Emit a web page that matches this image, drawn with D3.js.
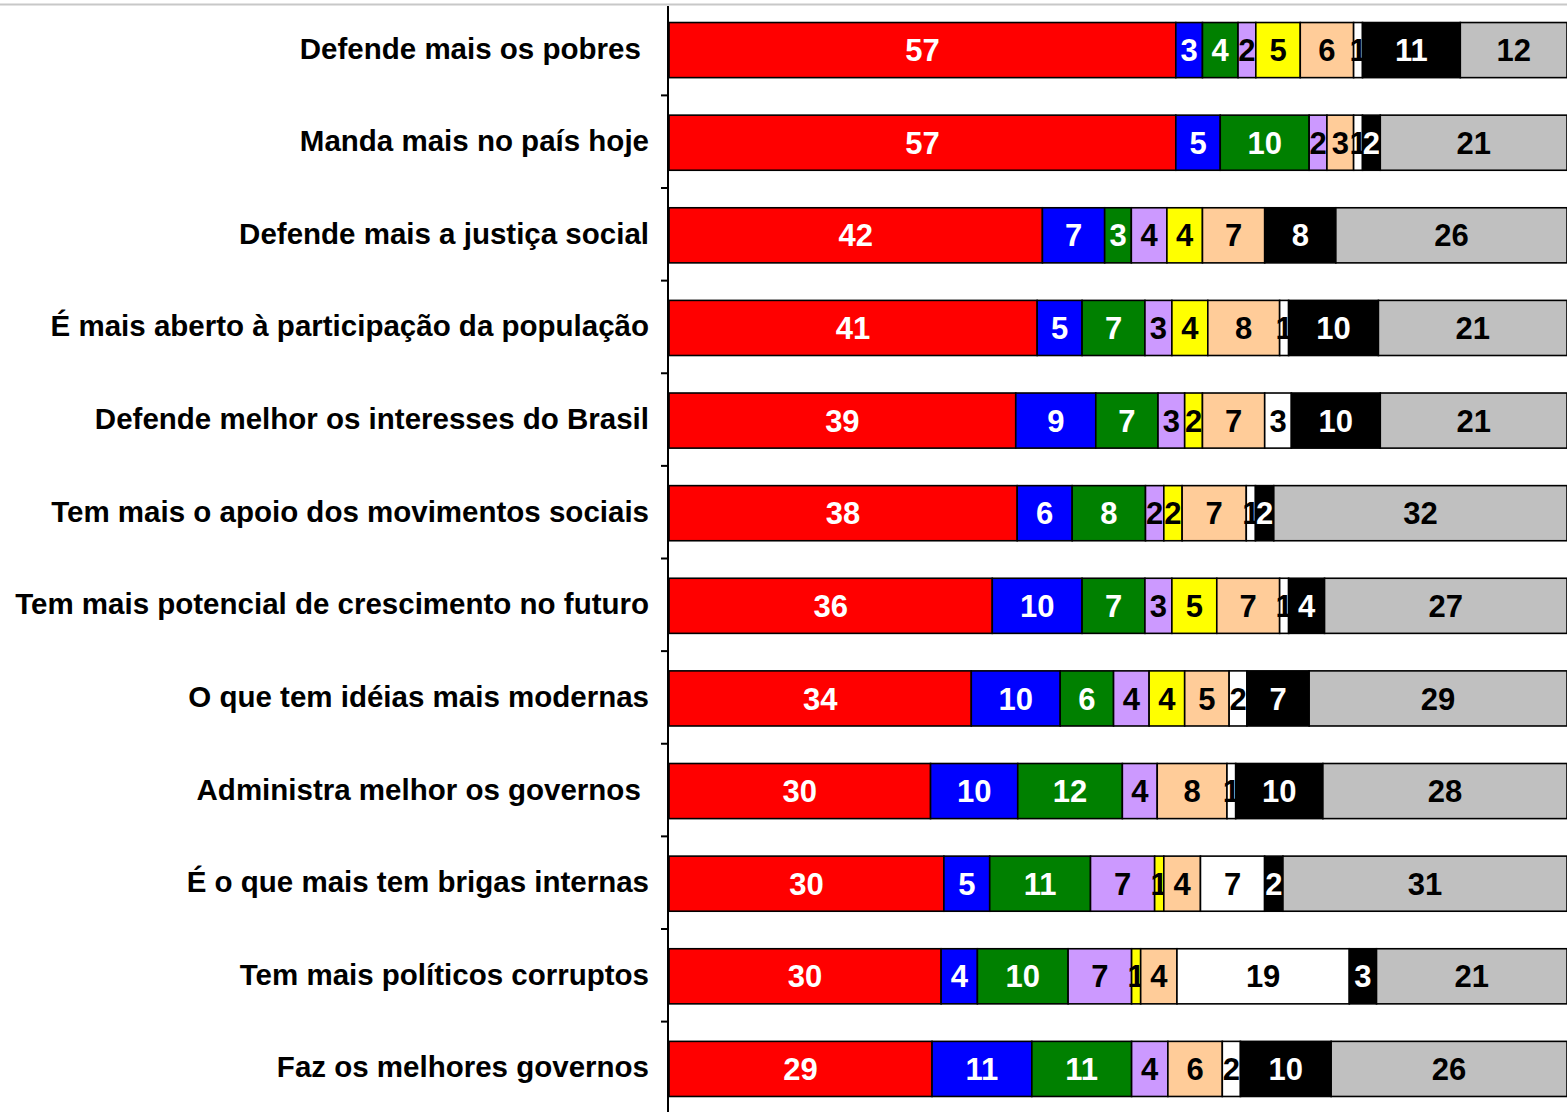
<!DOCTYPE html>
<html>
<head>
<meta charset="utf-8">
<script src="https://cdn.jsdelivr.net/npm/d3@7"></script>
<style>
  body { margin: 0; background: #fff; }
  svg { display: block; font-family: "Liberation Sans", Arial, sans-serif; }
</style>
</head>
<body>
<div id="chart"></div>
<script>
var categories = [
	"Defende mais os pobres ",
	"Manda mais no país hoje",
	"Defende mais a justiça social",
	"É mais aberto à participação da população",
	"Defende melhor os interesses do Brasil",
	"Tem mais o apoio dos movimentos sociais",
	"Tem mais potencial de crescimento no futuro",
	"O que tem idéias mais modernas",
	"Administra melhor os governos ",
	"É o que mais tem brigas internas",
	"Tem mais políticos corruptos",
	"Faz os melhores governos"
];

// one array per segment colour, in stacking order
var red      = [57, 57, 42, 41, 39, 38, 36, 34, 30, 30, 30, 29];
var blue     = [ 3,  5,  7,  5,  9,  6, 10, 10, 10,  5,  4, 11];
var green    = [ 4, 10,  3,  7,  7,  8,  7,  6, 12, 11, 10, 11];
var lavender = [ 2,  2,  4,  3,  3,  2,  3,  4,  4,  7,  7,  4];
var yellow   = [ 5,  0,  4,  4,  2,  2,  5,  4,  0,  1,  1,  0];
var peach    = [ 6,  3,  7,  8,  7,  7,  7,  5,  8,  4,  4,  6];
var white    = [ 1,  1,  0,  1,  3,  1,  1,  2,  1,  7, 19,  2];
var black    = [11,  2,  8, 10, 10,  2,  4,  7, 10,  2,  3, 10];
var gray     = [12, 21, 26, 21, 21, 32, 27, 29, 28, 31, 21, 26];

var keys = ["red", "blue", "green", "lavender", "yellow", "peach", "white", "black", "gray"];
var series = { red, blue, green, lavender, yellow, peach, white, black, gray };
var fills = ["#FF0000", "#0000FF", "#008000", "#CC99FF", "#FFFF00", "#FFCC99", "#FFFFFF", "#000000", "#C0C0C0"];
var textColors = ["#fff", "#fff", "#fff", "#000", "#000", "#000", "#000", "#fff", "#000"];

var rows = categories.map((c, i) => {
	var r = { cat: c };
	keys.forEach(k => r[k] = series[k][i]);
	return r;
});

const W = 1567, H = 1112;
const margin = { top: 3, right: 0, bottom: -2, left: 669 };
const width = W - margin.left - margin.right,
	height = H - margin.top - margin.bottom;

var svg = d3.select("#chart").append("svg")
		.attr("width", W)
		.attr("height", H);

// light border line across the top
svg.append("line")
	.attr("x1", 0).attr("x2", W)
	.attr("y1", 4.5).attr("y2", 4.5)
	.attr("stroke", "#c8c8c8")
	.attr("stroke-width", 2);

var g = svg.append("g")
	.attr("transform", `translate(${margin.left},${margin.top})`);

var x = d3.scaleLinear([0, 1], [0, width]);
var y = d3.scaleBand(categories, [0, height]).paddingInner(0.405).paddingOuter(0.2);

var stacked = d3.stack().keys(keys).offset(d3.stackOffsetExpand)(rows);

// draw row by row so that later segments cover overflowing labels
categories.forEach((cat, i) => {
	var row = g.append("g").attr("class", "row");
	stacked.forEach((s, k) => {
		var d = s[i];
		var v = rows[i][keys[k]];
		if (v === 0) return;
		row.append("rect")
			.attr("x", x(d[0]))
			.attr("y", y(cat) + 1)
			.attr("width", x(d[1]) - x(d[0]))
			.attr("height", y.bandwidth())
			.attr("fill", fills[k])
			.attr("stroke", "#000")
			.attr("stroke-width", 1.6);
		row.append("text")
			.attr("x", (x(d[0]) + x(d[1])) / 2)
			.attr("y", y(cat) + 1 + y.bandwidth() / 2)
			.attr("dy", "0.36em")
			.attr("text-anchor", "middle")
			.attr("fill", textColors[k])
			.attr("font-weight", "bold")
			.attr("font-size", 31)
			.text(v);
	});
});

var yaxis = d3.axisLeft(y).tickSize(0).tickPadding(20);
var ax = g.append("g").attr("class", "yaxis").call(yaxis);
ax.select(".domain").remove();
ax.selectAll("text")
	.attr("fill", "#000")
	.attr("font-size", 29.5)
	.attr("font-weight", "bold")
	.attr("font-family", "'Liberation Sans', Arial, sans-serif")
	.style("white-space", "pre");

// vertical axis line with ticks between categories
g.append("line")
	.attr("x1", -1).attr("x2", -1)
	.attr("y1", 3).attr("y2", height)
	.attr("stroke", "#000")
	.attr("stroke-width", 2);

g.selectAll(".sep")
	.data(categories.slice(1))
	.join("line")
	.attr("class", "sep")
	.attr("x1", -8).attr("x2", -1)
	.attr("y1", d => y(d) - y.step() * y.paddingInner() / 2)
	.attr("y2", d => y(d) - y.step() * y.paddingInner() / 2)
	.attr("stroke", "#000")
	.attr("stroke-width", 2);
</script>
</body>
</html>
